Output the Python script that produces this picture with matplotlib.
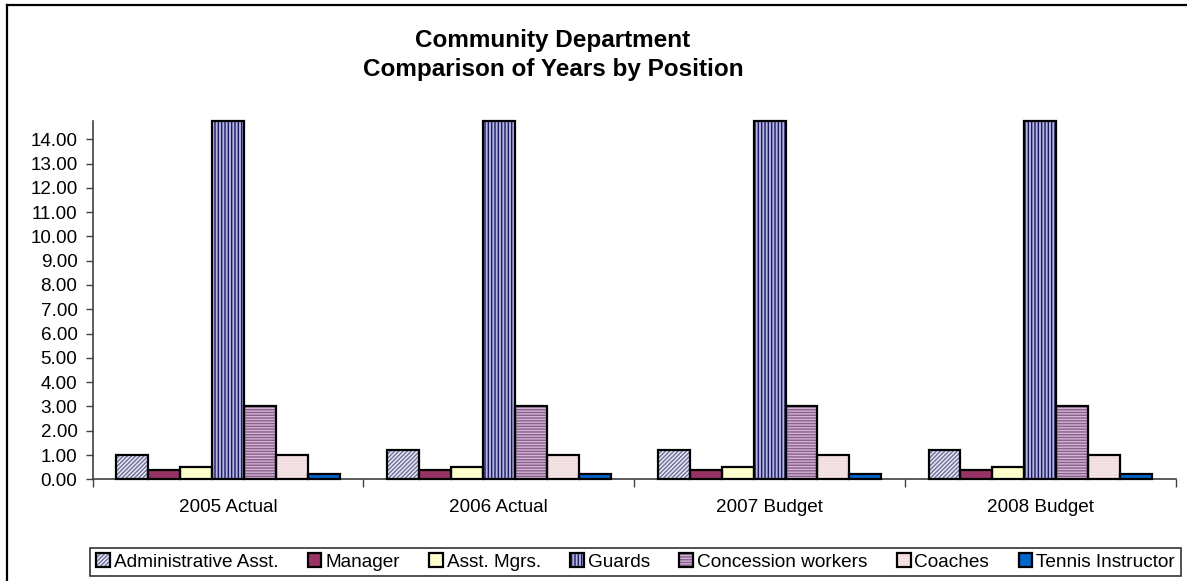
import matplotlib
matplotlib.use("Agg")
import matplotlib.pyplot as plt
import numpy as np
from matplotlib.lines import Line2D
from matplotlib.legend_handler import HandlerTuple
from matplotlib.ticker import FormatStrFormatter, FixedLocator

plt.rcParams['font.family'] = ['Liberation Sans', 'DejaVu Sans']
plt.rcParams['hatch.linewidth'] = 1.0

# Data
years = ["2005 Actual", "2006 Actual", "2007 Budget", "2008 Budget"]
positions = ["Administrative Asst.", "Manager", "Asst. Mgrs.", "Guards",
             "Concession workers", "Coaches", "Tennis Instructor"]
admin_asst = [1.00, 1.20, 1.20, 1.20]
manager = [0.38, 0.38, 0.38, 0.38]
asst_mgrs = [0.50, 0.50, 0.50, 0.50]
guards = [14.75, 14.75, 14.75, 14.75]
concession = [3.00, 3.00, 3.00, 3.00]
coaches = [1.00, 1.00, 1.00, 1.00]
tennis = [0.20, 0.20, 0.20, 0.20]
series = [admin_asst, manager, asst_mgrs, guards, concession, coaches, tennis]
y_max = 14.75
y_ticks = np.arange(0, 15, 1)

# Styles: (face colour, hatch, hatch colour)
styles = [
    ("#E8E8F2", "////////", "#6E6E9A"),
    ("#993366", "", "#993366"),
    ("#FFFFCC", "", "#FFFFCC"),
    ("#B4B4DE", "|||||", "#1C1C66"),
    ("#D2B4D2", "------", "#8A6090"),
    ("#F6E6E8", "......", "#EAD4D8"),
    ("#0066CC", "", "#0066CC"),
]

fig = plt.figure(figsize=(11.87, 5.81), dpi=100)
ax = fig.add_axes([92.7 / 1187, 1 - 479.3 / 581, (1175.7 - 92.7) / 1187, (479.3 - 121) / 581])

x = np.arange(len(years))
width = 0.118
handles = []
for i, (vals, (fc, hatch, hc)) in enumerate(zip(series, styles)):
    offs = (i - 3) * width
    fill = ax.bar(x + offs, vals, width, color=fc, edgecolor=hc, hatch=hatch,
                  linewidth=0, zorder=2)
    outline = ax.bar(x + offs, vals, width, facecolor="none", edgecolor="black",
                     linewidth=1.6, zorder=3, clip_on=False)
    handles.append((fill.patches[0], outline.patches[0]))

ax.set_xlim(-0.5, len(years) - 0.5)
ax.set_ylim(0, y_max)
ax.set_yticks(y_ticks)
ax.yaxis.set_major_formatter(FormatStrFormatter("%.2f"))
ax.tick_params(axis="y", labelsize=13.6, length=5, width=1, color="#404040", pad=6)

ax.xaxis.set_major_locator(FixedLocator(np.arange(-0.5, len(years), 1.0)))
ax.xaxis.set_minor_locator(FixedLocator(x))
ax.set_xticklabels([], minor=False)
ax.set_xticklabels(years, minor=True)
ax.tick_params(axis="x", which="major", length=6, width=1, color="#404040")
ax.tick_params(axis="x", which="minor", length=0, labelsize=13.6, pad=14)

for side in ("top", "right"):
    ax.spines[side].set_visible(False)
for side in ("left", "bottom"):
    ax.spines[side].set_color("#404040")
    ax.spines[side].set_linewidth(1.2)

fig.text(553 / 1187, 1 - 55 / 581, "Community Department\nComparison of Years by Position",
         ha="center", va="center", fontsize=17.5, fontweight="bold", linespacing=1.38)

leg = fig.legend(handles, positions, handler_map={tuple: HandlerTuple(ndivide=1)},
                 loc="center", bbox_to_anchor=(635.5 / 1187, 1 - 562 / 581),
                 ncol=7, fontsize=13.7, frameon=True, fancybox=False,
                 edgecolor="black", handlelength=0.72, handleheight=0.72,
                 handletextpad=0.2, columnspacing=1.55, borderpad=0.3,
                 borderaxespad=0)
leg.get_frame().set_linewidth(1.2)

# Chart area border (left and top edges; the rest runs past the canvas)
bx, by = 7 / 1187, 1 - 5 / 581
fig.add_artist(Line2D([bx, bx], [0, by], transform=fig.transFigure,
                      color="black", linewidth=1.6, solid_capstyle="projecting"))
fig.add_artist(Line2D([bx, 1], [by, by], transform=fig.transFigure,
                      color="black", linewidth=1.6, solid_capstyle="projecting"))

fig.savefig("out.png", dpi=100)
